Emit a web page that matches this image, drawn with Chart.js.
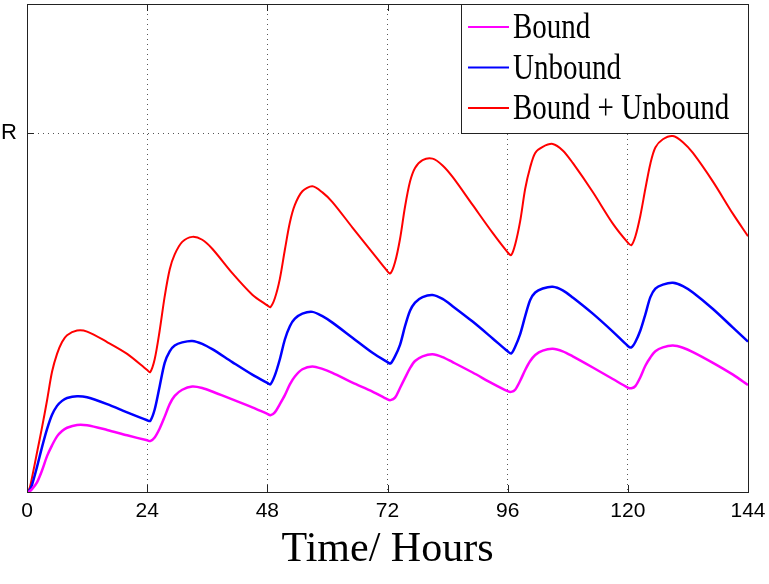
<!DOCTYPE html>
<html>
<head>
<meta charset="utf-8">
<script src="https://cdn.jsdelivr.net/npm/chart.js@4.4.1/dist/chart.umd.min.js"></script>
<style>
    html, body { margin: 0; padding: 0; background: #fff; }
    #wrap { width: 769px; height: 584px; }
</style>
</head>
<body>
<div id="wrap"><canvas id="doseChart" width="769" height="584"></canvas></div>
<script>
var hours = [
    0, 0.5, 1, 2, 3, 4, 5, 6, 7, 8, 10, 12, 16, 20,
    24, 24.6, 25.5, 26.5, 27.5, 28.5, 29.5, 31, 33, 35, 37, 41, 45,
    48, 48.6, 49.5, 50.5, 51.5, 52.5, 53.5, 55, 57, 59, 61, 65, 69,
    72, 72.6, 73.5, 74.5, 75.5, 76.5, 77.5, 79, 81, 83, 85, 89, 93,
    96, 96.7, 97.5, 98.5, 99.5, 100.5, 101.5, 103, 105, 107, 109, 113, 117,
    120, 120.7, 121.5, 122.5, 123.5, 124.5, 125.5, 127, 129, 131, 133, 137, 141,
    144
];

var bound = [
    0, 0.002, 0.008, 0.027, 0.06, 0.10, 0.13, 0.155, 0.17, 0.179, 0.187, 0.186, 0.173, 0.158,
    0.144, 0.142, 0.152, 0.177, 0.21, 0.245, 0.268, 0.285, 0.294, 0.29, 0.28, 0.258, 0.236,
    0.218, 0.214, 0.222, 0.245, 0.27, 0.30, 0.322, 0.342, 0.350, 0.343, 0.332, 0.305, 0.28,
    0.258, 0.256, 0.263, 0.29, 0.318, 0.345, 0.365, 0.378, 0.384, 0.376, 0.362, 0.333, 0.302,
    0.281, 0.279, 0.285, 0.31, 0.34, 0.365, 0.382, 0.394, 0.399, 0.392, 0.378, 0.347, 0.315,
    0.291, 0.289, 0.295, 0.32, 0.352, 0.375, 0.392, 0.403, 0.408, 0.402, 0.39, 0.36, 0.327,
    0.298
];

var unbound = [
    0, 0.005, 0.02, 0.07, 0.125, 0.175, 0.215, 0.24, 0.254, 0.262, 0.267, 0.264, 0.245, 0.222,
    0.200, 0.198, 0.23, 0.295, 0.36, 0.392, 0.408, 0.417, 0.421, 0.413, 0.398, 0.362, 0.327,
    0.304, 0.300, 0.325, 0.37, 0.425, 0.462, 0.483, 0.497, 0.502, 0.49, 0.472, 0.43, 0.388,
    0.362, 0.358, 0.378, 0.41, 0.462, 0.505, 0.528, 0.543, 0.549, 0.538, 0.518, 0.475, 0.428,
    0.392, 0.386, 0.405, 0.44, 0.49, 0.535, 0.556, 0.567, 0.572, 0.562, 0.542, 0.497, 0.447,
    0.407, 0.403, 0.418, 0.45, 0.495, 0.543, 0.567, 0.578, 0.583, 0.574, 0.556, 0.51, 0.458,
    0.419
];

var total = [
    0, 0.01, 0.04, 0.11, 0.18, 0.255, 0.335, 0.385, 0.418, 0.437, 0.450, 0.447, 0.418, 0.385,
    0.340, 0.334, 0.37, 0.45, 0.545, 0.62, 0.662, 0.697, 0.711, 0.703, 0.678, 0.61, 0.55,
    0.520, 0.515, 0.540, 0.594, 0.675, 0.751, 0.80, 0.838, 0.852, 0.835, 0.808, 0.737, 0.667,
    0.615, 0.609, 0.64, 0.705, 0.795, 0.865, 0.903, 0.925, 0.929, 0.91, 0.878, 0.80, 0.722,
    0.668, 0.660, 0.69, 0.755, 0.845, 0.905, 0.945, 0.962, 0.970, 0.952, 0.917, 0.836, 0.748,
    0.695, 0.688, 0.712, 0.77, 0.845, 0.915, 0.96, 0.983, 0.992, 0.975, 0.945, 0.865, 0.775,
    0.713
];

var xTicks = [0, 24, 48, 72, 96, 120, 144];
var yTicks = [1];
var yTickLabels = ['R'];
var seriesLabels = ['Bound', 'Unbound', 'Bound + Unbound'];
var xTitle = 'Time/ Hours';

(function () {
    var tickFont = '"Liberation Sans", Arial, sans-serif';
    var serifFont = '"Liberation Serif", "DejaVu Serif", serif';

    function points(values) {
        return hours.map(function (h, i) {
            return { x: h, y: values[i] };
        });
    }

    // box around the axes plus the short inward ticks, matlab style
    var axesBox = {
        id: 'axesBox',
        afterDatasetsDraw: function (chart) {
            var ctx = chart.ctx;
            var a = chart.chartArea;
            var xs = chart.scales.x;
            var ys = chart.scales.y;
            ctx.save();
            ctx.strokeStyle = '#222';
            ctx.lineWidth = 1;
            ctx.strokeRect(a.left + 0.5, a.top + 0.5, a.right - a.left, a.bottom - a.top);
            ctx.beginPath();
            xTicks.forEach(function (v) {
                var px = Math.round(xs.getPixelForValue(v)) + 0.5;
                ctx.moveTo(px, a.bottom);
                ctx.lineTo(px, a.bottom - 7);
                ctx.moveTo(px, a.top);
                ctx.lineTo(px, a.top + 7);
            });
            yTicks.forEach(function (v) {
                var py = Math.round(ys.getPixelForValue(v)) + 0.5;
                ctx.moveTo(a.left, py);
                ctx.lineTo(a.left + 7, py);
                ctx.moveTo(a.right, py);
                ctx.lineTo(a.right - 7, py);
            });
            ctx.stroke();
            ctx.restore();
        }
    };

    // legend sits inside the plot, top right corner
    var insideLegend = {
        id: 'insideLegend',
        afterDraw: function (chart) {
            var ctx = chart.ctx;
            var a = chart.chartArea;
            var w = 287, h = 129;
            var left = a.right - w;
            var top = a.top;
            ctx.save();
            ctx.fillStyle = '#fff';
            ctx.fillRect(left, top, w, h);
            ctx.strokeStyle = '#222';
            ctx.lineWidth = 1;
            ctx.strokeRect(left + 0.5, top + 0.5, w, h);
            chart.data.datasets.forEach(function (ds, i) {
                var cy = top + 23 + i * 40.5;
                ctx.strokeStyle = ds.borderColor;
                ctx.lineWidth = 2;
                ctx.beginPath();
                ctx.moveTo(left + 7, cy);
                ctx.lineTo(left + 48, cy);
                ctx.stroke();
                ctx.save();
                ctx.translate(left + 52, cy + 11);
                ctx.scale(1, 1.2);
                ctx.fillStyle = '#000';
                ctx.font = '29px ' + serifFont;
                ctx.textBaseline = 'alphabetic';
                ctx.fillText(ds.label, 0, 0);
                ctx.restore();
            });
            ctx.restore();
        }
    };

    function buildChart(id, config) {
        var canvas = document.getElementById(id);
        if (!canvas || typeof Chart === 'undefined') {
            return;
        }
        new Chart(canvas, config);
    }

    buildChart('doseChart', {
        type: 'line',
        data: {
            datasets: [
                { label: seriesLabels[0], data: points(bound), borderColor: '#ff00ff', borderWidth: 2.5 },
                { label: seriesLabels[1], data: points(unbound), borderColor: '#0000ff', borderWidth: 2.5 },
                { label: seriesLabels[2], data: points(total), borderColor: '#ff0000', borderWidth: 2 }
            ]
        },
        options: {
            responsive: false,
            animation: false,
            parsing: false,
            tension: 0.3,
            pointRadius: 0,
            layout: { padding: { top: 4, right: 21, left: 0, bottom: 0 } },
            plugins: {
                legend: { display: false },
                tooltip: { enabled: false }
            },
            scales: {
                x: {
                    type: 'linear',
                    min: 0,
                    max: 144,
                    afterBuildTicks: function (scale) {
                        scale.ticks = xTicks.map(function (v) { return { value: v }; });
                    },
                    afterFit: function (scale) {
                        scale.height = 92;
                        scale.paddingLeft = 0;
                        scale.paddingRight = 0;
                    },
                    ticks: {
                        color: '#000',
                        padding: 7,
                        maxRotation: 0,
                        font: { family: tickFont, size: 21 },
                        callback: function (v) { return String(v); }
                    },
                    grid: { color: '#555', lineWidth: 1, drawTicks: false },
                    border: { color: '#222', width: 1, dash: [1, 4] },
                    title: {
                        display: true,
                        text: xTitle,
                        color: '#000',
                        font: { family: serifFont, size: 42 },
                        padding: { top: 0, bottom: 9 }
                    }
                },
                y: {
                    type: 'linear',
                    min: 0,
                    max: 1.36,
                    afterBuildTicks: function (scale) {
                        scale.ticks = yTicks.map(function (v) { return { value: v }; });
                    },
                    afterFit: function (scale) {
                        scale.width = 27;
                        scale.paddingTop = 0;
                        scale.paddingBottom = 0;
                    },
                    ticks: {
                        color: '#000',
                        padding: 10,
                        font: { family: tickFont, size: 22 },
                        callback: function (v) {
                            var i = yTicks.indexOf(v);
                            return i < 0 ? '' : yTickLabels[i];
                        }
                    },
                    grid: { color: '#555', lineWidth: 1, drawTicks: false },
                    border: { color: '#222', width: 1, dash: [1, 4] }
                }
            }
        },
        plugins: [axesBox, insideLegend]
    });
})();
</script>
</body>
</html>
